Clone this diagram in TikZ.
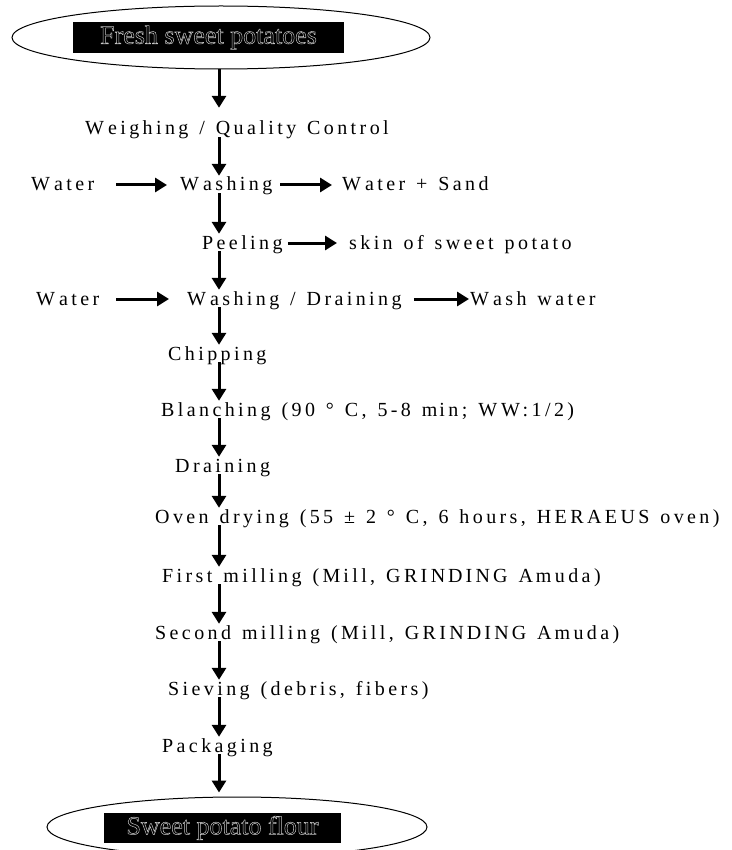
\documentclass[tikz,border=0pt]{standalone}
\usepackage{fontspec}
\setmainfont{Liberation Serif}
\newfontfamily\lsfont[LetterSpace=17,WordSpace=1.3]{Liberation Serif}
\usetikzlibrary{arrows.meta,shapes.geometric}
\newcommand\outl[1]{\special{pdf:literal direct 1 Tr 0.5 w}#1\special{pdf:literal direct 0 Tr 0.4 w}}
\newcommand\Wk{W\kern4pt}
\newcommand\kk{\kern3pt}
\begin{document}
\begin{tikzpicture}[x=1pt,y=-1pt,
  lbl/.style={anchor=base west, inner sep=0pt, text height=14pt, text depth=2pt,
              font=\lsfont\fontsize{20}{24}\selectfont},
  arr/.style={line width=3pt, -{Triangle[width=14pt,length=12pt]}},
  term/.style={draw, ellipse, line width=1pt, inner sep=0pt},
  blk/.style={fill=black, inner sep=0pt, text=gray!45, font=\fontsize{26}{30}\selectfont}]
\useasboundingbox (0,0) rectangle (731,850);
\coordinate (X) at (219,0);
% terminals
\node[term, minimum width=418pt, minimum height=63pt] (top) at (221,37.5) {};
\node[blk, minimum width=271pt, minimum height=31pt] (topbox) at (208.5,37.5) {\outl{Fresh sweet potatoes}};
\node[term, minimum width=380pt, minimum height=60pt] (bot) at (237,827) {};
\node[blk, minimum width=237pt, minimum height=30pt] (botbox) at (222.5,828) {\outl{Sweet potato flour}};
% steps
\node[lbl] (weigh)  at (85,135)  {\Wk eighing / Quality Control};
\node[lbl] (water1) at (31,191)  {\Wk ater};
\node[lbl] (wash1)  at (180,191) {\Wk ashing};
\node[lbl] (sand)   at (342,191) {\Wk ater + Sand};
\node[lbl] (peel)   at (202,249) {Peeling};
\node[lbl] (skin)   at (349,249) {skin of sweet potato};
\node[lbl] (water2) at (36,305)  {\Wk ater};
\node[lbl] (wd)     at (187,305) {\Wk ashing / Draining};
\node[lbl] (wwater) at (470,305) {\Wk ash water};
\node[lbl] (chip)   at (168,360) {Chipping};
\node[lbl] (blanch) at (161,416) {Blanching (90 ° C, 5-8 m\kern2pt in; \Wk W:1/2)};
\node[lbl] (drain)  at (175,472) {Draining};
\node[lbl] (oven)   at (155,523) {Oven drying (55 ± 2 ° C, 6 hours, HERAEUS oven)};
\node[lbl] (first)  at (162,582) {First milling (M\kk ill, GRIN\kk D\kk IN\kk G A\kk muda)};
\node[lbl] (second) at (155,639) {Second milling (M\kk ill, GRIN\kk D\kk IN\kk G A\kk muda)};
\node[lbl] (sieve)  at (168,695) {Sieving (debris, fibers)};
\node[lbl] (pack)   at (162,752) {Packaging};
% vertical flow
\draw[arr, shorten >=13pt] (top.south -| X) -- (weigh.north -| X);
\foreach \a/\b in {weigh/wash1, wash1/peel, peel/wd, wd/chip, chip/blanch, blanch/drain,
                   drain/oven, oven/first, first/second, second/sieve, sieve/pack}
  \draw[arr, shorten >=1pt] (\a.south -| X) -- (\b.north -| X);
\draw[arr, shorten >=4pt] (pack.south -| X) -- (bot.north -| X);
% side flows
\draw[arr, shorten <=22pt, shorten >=13pt] (water1) -- (wash1);
\draw[arr, shorten <=8pt, shorten >=10pt] (wash1) -- (sand);
\draw[arr, shorten <=5pt, shorten >=12pt] (peel) -- (skin);
\draw[arr, shorten <=17pt, shorten >=18pt] (water2) -- (wd);
\draw[arr, shorten <=12pt, shorten >=1pt] (wd) -- (wwater);
\end{tikzpicture}
\end{document}
